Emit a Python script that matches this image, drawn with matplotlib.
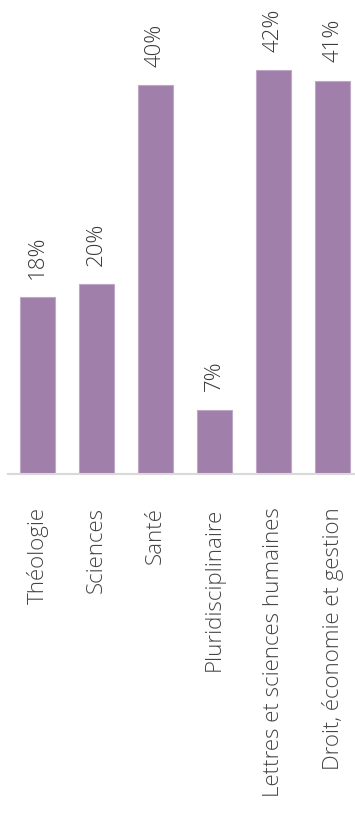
import matplotlib.pyplot as plt

# Valeurs
categories = ["Théologie", "Sciences", "Santé", "Pluridisciplinaire",
              "Lettres et sciences humaines", "Droit, économie et gestion"]
valeurs = [18.4, 19.7, 40.4, 6.7, 42.0, 40.9]

plt.rcParams["font.family"] = ["Open Sans", "DejaVu Sans"]

fig = plt.figure(figsize=(3.55, 8.18), dpi=100)
W, H = 355, 818
ax = fig.add_axes([8 / W, (H - 474) / H, (W - 8) / W, 474 / H])

x = range(len(categories))
ax.bar(x, valeurs, width=0.59, color="#a07fab", edgecolor="#bfa8c6", linewidth=0.8, zorder=2)

for i, v in enumerate(valeurs):
    ax.annotate(f"{round(v)}%", (i, v), xytext=(0, 13), textcoords="offset points",
                rotation=90, ha="center", va="bottom", fontsize=16, fontweight="light",
                color="#3a3a3a")

ax.set_xlim(-0.5, 5.38)
ax.set_ylim(0, 474 / 9.62)
ax.set_xticks(list(x))
ax.set_xticklabels(categories, rotation=90, fontsize=16, fontweight="light", color="#454545")
ax.tick_params(axis="x", length=0, pad=24)
ax.set_yticks([])
for s in ["top", "right", "left"]:
    ax.spines[s].set_visible(False)
ax.spines["bottom"].set_color("#d9d9d9")
ax.spines["bottom"].set_linewidth(1.5)

fig.savefig("out.png", dpi=100)
